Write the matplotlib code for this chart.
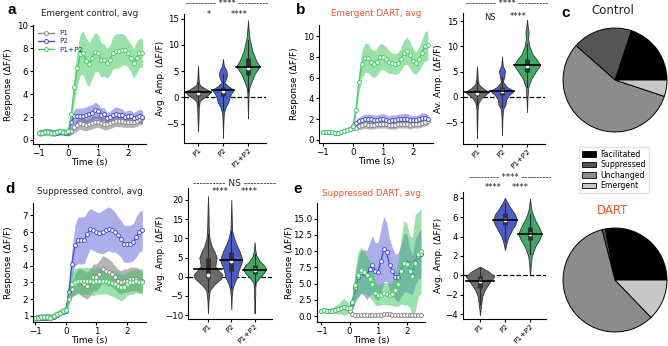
import numpy as np
import matplotlib
matplotlib.use('Agg')
import matplotlib.pyplot as plt
from matplotlib.patches import Patch

W, H = 668, 346
DART_RED = '#f0562a'

# time axis: -1.0 .. 2.5 s in 0.1 s steps
t = np.linspace(-1.0, 2.5, 36)

# ---- panel a: emergent control ----
a_p1 = [0.65, 0.7, 0.7, 0.75, 0.7, 0.65, 0.7, 0.75, 0.7, 0.65, 0.6,
        0.8, 1.1, 1.3, 1.5, 1.4, 1.3, 1.4, 1.5, 1.6, 1.6, 1.5, 1.4, 1.4, 1.5, 1.6, 1.7, 1.7, 1.7, 1.6, 1.6, 1.6, 1.6, 1.7, 1.8, 1.9]
a_p1_sem = [0.25] * 11 + [0.35, 0.45, 0.5, 0.55, 0.55, 0.5, 0.5, 0.55, 0.55, 0.5, 0.5, 0.5, 0.5, 0.5, 0.5, 0.5, 0.55, 0.55, 0.5, 0.5, 0.5, 0.5, 0.5, 0.5, 0.5]
a_p2 = [0.6, 0.65, 0.7, 0.7, 0.65, 0.6, 0.65, 0.7, 0.7, 0.65, 0.7,
        1.6, 2.1, 2.1, 2.1, 2.1, 2.2, 2.3, 2.4, 2.6, 2.5, 2.2, 2.3, 1.9, 2.0, 2.2, 2.3, 2.2, 2.2, 2.0, 2.1, 2.1, 1.9, 2.0, 2.1, 2.0]
a_p2_sem = [0.25] * 11 + [0.4, 0.6, 0.7, 0.7, 0.7, 0.7, 0.7, 0.7, 0.7, 0.65, 0.6, 0.55, 0.5, 0.5, 0.55, 0.6, 0.6, 0.55, 0.5, 0.5, 0.5, 0.5, 0.55, 0.6, 0.6]
a_p3 = [0.6, 0.65, 0.7, 0.7, 0.65, 0.6, 0.7, 0.75, 0.7, 0.7, 0.8,
        2.3, 4.6, 6.3, 7.5, 7.6, 6.9, 6.6, 7.2, 7.7, 7.6, 7.0, 7.0, 6.7, 7.0, 7.6, 7.8, 7.8, 7.9, 7.9, 7.6, 7.2, 6.7, 7.2, 7.6, 7.6]
a_p3_sem = [0.3] * 11 + [0.6, 1.2, 1.6, 1.8, 1.9, 2.0, 1.9, 1.8, 1.7, 1.6, 1.5, 1.4, 1.3, 1.3, 1.4, 1.5, 1.5, 1.4, 1.3, 1.2, 1.2, 1.3, 1.4, 1.3, 1.2]

# ---- panel b: emergent DART ----
b_p1 = [0.8, 0.8, 0.8, 0.75, 0.7, 0.65, 0.75, 0.9, 1.0, 1.1, 1.2,
        1.2, 1.3, 1.4, 1.5, 1.4, 1.4, 1.4, 1.5, 1.5, 1.5, 1.5, 1.4, 1.4, 1.4, 1.5, 1.5, 1.5, 1.5, 1.4, 1.5, 1.5, 1.5, 1.6, 1.7, 1.8]
b_p1_sem = [0.2] * 11 + [0.25, 0.3] + [0.35] * 23
b_p2 = [0.8, 0.8, 0.8, 0.75, 0.7, 0.65, 0.75, 0.9, 1.0, 1.1, 1.3,
        1.6, 1.8, 1.9, 2.0, 2.0, 2.0, 1.9, 1.9, 2.0, 2.0, 1.9, 1.8, 1.9, 1.9, 2.0, 2.0, 2.0, 2.0, 1.9, 1.9, 1.9, 2.0, 2.1, 2.1, 2.0]
b_p2_sem = [0.2] * 11 + [0.3, 0.4, 0.45, 0.5, 0.5, 0.5, 0.5, 0.5, 0.5, 0.55, 0.55, 0.5, 0.5, 0.5, 0.5, 0.5, 0.55, 0.55, 0.5, 0.45, 0.45, 0.45, 0.5, 0.5, 0.45]
b_p3 = [0.8, 0.8, 0.8, 0.75, 0.7, 0.65, 0.75, 0.9, 1.0, 1.1, 1.3,
        2.9, 5.6, 7.3, 7.9, 7.9, 7.5, 7.3, 7.5, 8.0, 8.0, 7.8, 7.5, 7.4, 7.3, 7.4, 7.8, 8.4, 8.6, 8.2, 7.6, 7.4, 7.8, 8.4, 9.0, 9.1]
b_p3_sem = [0.2] * 11 + [0.5, 1.0, 1.3, 1.4, 1.4, 1.3, 1.3, 1.3, 1.3, 1.2, 1.2, 1.1, 1.0, 1.0, 1.0, 1.1, 1.2, 1.3, 1.3, 1.2, 1.1, 1.1, 1.2, 1.4, 1.4]

# ---- panel d: suppressed control ----
d_p1 = [0.9, 0.95, 0.95, 0.95, 1.0, 0.95, 1.0, 1.1, 1.2, 1.3, 1.35,
        2.1, 2.6, 2.9, 3.1, 3.0, 2.9, 2.8, 3.0, 3.3, 3.3, 3.5, 3.8, 3.7, 3.6, 3.5, 3.3, 3.1, 3.0, 3.1, 3.1, 3.2, 3.2, 3.2, 3.1, 3.1]
d_p1_sem = [0.15] * 11 + [0.3, 0.5, 0.6, 0.7] + [0.8] * 10 + [0.75] + [0.7] * 10
d_p2 = [0.85, 0.85, 0.9, 0.9, 0.9, 0.9, 0.95, 1.05, 1.15, 1.25, 1.3,
        2.4, 4.1, 5.2, 5.5, 5.5, 5.5, 5.9, 6.2, 6.1, 6.0, 5.95, 6.0, 6.1, 6.2, 6.1, 6.0, 5.8, 5.6, 5.3, 5.3, 5.3, 5.4, 5.7, 6.0, 6.1]
d_p2_sem = [0.15] * 11 + [0.4, 0.8, 1.2, 1.4, 1.4, 1.4, 1.3, 1.2, 1.2, 1.2, 1.2, 1.3, 1.3, 1.3, 1.3, 1.2, 1.1, 1.1, 1.1, 1.1, 1.1, 1.1, 1.2, 1.2, 1.2]
d_p3 = [0.9, 0.9, 0.95, 0.95, 0.95, 0.9, 1.0, 1.1, 1.2, 1.3, 1.35,
        2.0, 2.9, 3.0, 3.1, 3.1, 3.1, 3.1, 3.1, 3.0, 3.1, 3.1, 3.1, 3.1, 3.0, 2.95, 2.9, 2.8, 2.7, 2.75, 2.9, 3.0, 3.0, 3.1, 3.05, 3.0]
d_p3_sem = [0.2] * 11 + [0.4, 0.7] + [0.8] * 10 + [0.75, 0.75, 0.75, 0.8, 0.8, 0.8, 0.75, 0.7, 0.7, 0.7, 0.7, 0.7, 0.7]

# ---- panel e: suppressed DART ----
e_p1 = [0.8, 0.9, 0.8, 0.8, 0.85, 1.0, 1.1, 1.3, 1.4, 1.3, 0.7,
        0.3, 0.2, 0.15, 0.1, 0.1, 0.1, 0.1, 0.1, 0.1, 0.1, 0.2, 0.3, 0.3, 0.25, 0.2, 0.15, 0.1, 0.1, 0.1, 0.1, 0.1, 0.1, 0.1, 0.1, 0.1]
e_p1_sem = [0.15] * 11 + [0.08] * 25
e_p2 = [0.8, 0.9, 0.8, 0.8, 0.85, 1.0, 1.1, 1.3, 1.4, 1.3, 1.2,
        2.0, 4.3, 6.0, 6.8, 6.7, 6.3, 7.2, 7.9, 7.0, 6.8, 8.5, 10.3, 9.8, 7.8, 7.0, 6.0, 6.0, 6.9, 8.2, 8.2, 7.0, 6.3, 8.3, 9.3, 9.6]
e_p2_sem = [0.3] * 10 + [0.4] + [1.0, 2.0, 3.0, 3.3, 3.5, 3.8, 4.0, 4.5, 4.3, 4.5, 5.0, 5.0, 4.5, 4.0, 3.5, 3.5, 3.8, 4.0, 4.5, 4.5, 3.5, 3.0, 3.5, 3.5, 3.8]
e_p3 = [0.8, 0.9, 0.8, 0.8, 0.85, 1.0, 1.1, 1.3, 1.4, 1.3, 1.2,
        2.2, 4.7, 6.3, 7.1, 6.8, 6.3, 5.7, 4.9, 3.5, 3.2, 3.3, 3.5, 3.4, 3.3, 3.4, 4.0, 5.0, 6.9, 8.2, 8.0, 6.9, 6.2, 8.2, 9.5, 10.0]
e_p3_sem = [0.3, 0.4, 0.4, 0.4, 0.5, 0.6, 0.8, 1.0, 1.3, 1.0, 0.6,
            1.0, 2.5, 3.5, 3.5, 3.3, 3.0, 2.8, 2.5, 1.8, 1.6, 1.6, 1.7, 1.7, 1.6, 1.8, 2.5, 3.5, 5.0, 6.5, 6.3, 5.5, 6.0, 7.5, 6.5, 6.5]

# ---- violins: density profile (level, relative width), box (lo, q1, med, q3, hi), mean ----
cats = ['P1', 'P2', 'P1+P2']

a_v1_lv = [-6.5, -4.0, -2.0, -0.8, -0.2, 0.4, 1.1, 1.6, 2.3, 3.0, 4.0, 6.0]
a_v1_dn = [0.0, 0.04, 0.06, 0.12, 0.35, 0.75, 1.0, 0.6, 0.15, 0.06, 0.04, 0.0]
a_v1_box = [-1.5, 0.3, 0.8, 1.4, 3.0]
a_v2_lv = [-7.7, -5.0, -3.0, -1.8, -1.0, 0.0, 0.7, 1.4, 2.2, 2.9, 3.6, 4.4, 5.2, 6.0, 7.3]
a_v2_dn = [0.0, 0.03, 0.08, 0.25, 0.47, 0.6, 0.75, 1.0, 0.45, 0.12, 0.3, 0.37, 0.3, 0.08, 0.0]
a_v2_box = [-2.5, 0.3, 1.3, 2.0, 4.5]
a_v3_lv = [-4.0, -1.0, 1.0, 1.9, 2.9, 4.5, 5.9, 7.0, 8.9, 10.0, 11.4, 13.0, 14.7]
a_v3_dn = [0.0, 0.03, 0.06, 0.12, 0.28, 0.57, 1.0, 0.7, 0.36, 0.25, 0.12, 0.05, 0.0]
a_v3_box = [1.0, 4.2, 5.6, 7.5, 11.0]
a_means = [1.1, 1.4, 5.7]

b_v1_lv = [-8.2, -5.0, -2.5, -1.2, -0.3, 0.4, 1.0, 1.7, 2.5, 3.5, 4.5, 6.1]
b_v1_dn = [0.0, 0.03, 0.05, 0.12, 0.35, 0.7, 1.0, 0.5, 0.15, 0.06, 0.04, 0.0]
b_v1_box = [-1.5, 0.3, 0.8, 1.4, 3.0]
b_v2_lv = [-7.5, -4.5, -2.5, -1.5, -0.5, 0.4, 1.2, 2.0, 3.0, 4.2, 5.2, 6.2, 8.0]
b_v2_dn = [0.0, 0.03, 0.08, 0.3, 0.35, 0.6, 1.0, 0.4, 0.08, 0.2, 0.25, 0.06, 0.0]
b_v2_box = [-2.0, 0.4, 1.1, 1.9, 4.0]
b_v3_lv = [-3.0, 0.0, 2.0, 3.5, 5.0, 6.3, 7.5, 8.5, 10.0, 11.5, 12.8, 13.8, 15.3]
b_v3_dn = [0.0, 0.04, 0.1, 0.3, 0.65, 1.0, 0.7, 0.4, 0.18, 0.08, 0.12, 0.06, 0.0]
b_v3_box = [2.0, 5.0, 6.1, 7.5, 10.5]
b_means = [0.9, 1.2, 6.3]

d_v1_lv = [-9.5, -6.0, -3.5, -2.0, -0.5, 0.5, 1.8, 2.8, 4.0, 5.0, 6.5, 8.0, 10.0, 13.0, 17.0, 21.0]
d_v1_dn = [0.0, 0.04, 0.12, 0.45, 0.9, 1.0, 0.7, 0.5, 0.55, 0.6, 0.45, 0.25, 0.1, 0.05, 0.03, 0.0]
d_v1_box = [-4.0, -0.3, 0.5, 5.0, 11.0]
d_v2_lv = [-8.5, -5.0, -3.0, -1.5, 0.0, 1.5, 3.0, 4.3, 5.5, 7.0, 8.5, 10.0, 12.0, 15.0, 20.0]
d_v2_dn = [0.0, 0.04, 0.12, 0.3, 0.55, 0.65, 0.85, 1.0, 0.9, 0.7, 0.45, 0.25, 0.08, 0.04, 0.0]
d_v2_box = [-3.0, 1.5, 4.2, 6.5, 12.0]
d_v3_lv = [-9.5, -6.0, -4.5, -3.0, -1.5, -0.3, 1.0, 2.0, 3.0, 4.0, 5.5, 7.0, 9.0]
d_v3_dn = [0.0, 0.03, 0.06, 0.05, 0.1, 0.4, 0.8, 1.0, 0.8, 0.45, 0.15, 0.05, 0.0]
d_v3_box = [-2.5, 0.8, 1.8, 3.0, 6.0]
d_means = [2.0, 4.3, 1.8]

e_v1_lv = [-4.1, -3.4, -2.8, -2.2, -1.6, -1.0, -0.5, -0.1, 0.4, 0.9]
e_v1_dn = [0.0, 0.05, 0.1, 0.15, 0.3, 0.55, 0.8, 1.0, 0.6, 0.0]
e_v1_box = [-3.0, -1.3, -0.6, -0.1, 0.8]
e_v2_lv = [2.6, 3.3, 4.0, 4.7, 5.2, 5.7, 6.3, 6.9, 7.5, 8.0]
e_v2_dn = [0.0, 0.12, 0.3, 0.6, 0.85, 1.0, 0.85, 0.5, 0.2, 0.0]
e_v2_box = [3.5, 5.2, 5.7, 6.4, 7.5]
e_v3_lv = [0.0, 1.0, 2.0, 3.0, 3.7, 4.3, 5.0, 5.8, 6.6, 7.3, 7.9]
e_v3_dn = [0.0, 0.06, 0.15, 0.45, 0.8, 1.0, 0.75, 0.4, 0.15, 0.06, 0.0]
e_v3_box = [2.2, 3.6, 4.3, 5.0, 6.3]
e_means = [-0.6, 5.7, 4.3]

# ---- pies ----
pie_labels = ['Facilitated', 'Suppressed', 'Unchanged', 'Emergent']
ctrl_pct = [19.9, 18.6, 56.4, 5.1]
dart_pct = [28.0, 1.0, 58.2, 12.8]

# ---------------------------------------------------------------------------
plt.rcParams['font.family'] = 'DejaVu Sans'
plt.rcParams['axes.linewidth'] = 0.8
fig = plt.figure(figsize=(W / 100, H / 100), dpi=100)

line_c = {'P1': '#8a8a8a', 'P2': '#4452c6', 'P1+P2': '#46cf66'}
fill_c = {'P1': '#5a5a5a', 'P2': '#4a4ad0', 'P1+P2': '#36c458'}
fill_a = {'P1': 0.45, 'P2': 0.45, 'P1+P2': 0.5}
viol_c = ['#6a6a6a', '#4a5ec4', '#3daa68']
TICK_FS = 6.2
LABEL_FS = 6.5


def px_axes(l, t_, r, b):
    return fig.add_axes([l / W, 1 - b / H, (r - l) / W, (b - t_) / H])


def style(ax):
    for s in ['top', 'right']:
        ax.spines[s].set_visible(False)
    ax.tick_params(labelsize=TICK_FS, length=2.5, width=0.8, pad=1)


def ylabel_at(ax, box, text, x_px):
    l, t_, r, b = box
    ax.set_ylabel(text, fontsize=LABEL_FS)
    ax.yaxis.set_label_coords((x_px - l) / (r - l), 0.5)


def time_panel(box, xlim, ylim, yticks, series, title, tcolor, title_y, legend=False):
    ax = px_axes(*box)
    for name, m, s in series:
        m = np.array(m)
        s = np.array(s)
        ax.fill_between(t, m - s, m + s, color=fill_c[name], alpha=fill_a[name], lw=0)
    for name, m, s in series:
        ax.plot(t, m, color=line_c[name], lw=1, marker='o', ms=2.8, mfc='white',
                mec=line_c[name], mew=0.7, label=name)
    ax.set_xlim(*xlim)
    ax.set_ylim(*ylim)
    ax.set_xticks([-1, 0, 1, 2])
    ax.set_yticks(yticks)
    ax.set_xlabel('Time (s)', fontsize=LABEL_FS, labelpad=0)
    style(ax)
    l, t_, r, b = box
    fig.text((l + r) / 2 / W, 1 - title_y / H, title, color=tcolor, fontsize=6.3,
             ha='center', va='center')
    if legend:
        ax.legend(loc='upper left', fontsize=5.2, frameon=False, handlelength=2.2,
                  borderaxespad=0.3, labelspacing=0.3, labelcolor='#2e3060')
    return ax


def violin_panel(box, p1_px, sp, ylim, yticks, profiles, boxes, means, widths):
    l, t_, r, b = box
    ax = px_axes(*box)
    ax.set_xlim((l - p1_px) / sp, (r - p1_px) / sp)
    ax.set_ylim(*ylim)
    ax.axhline(0, color='k', ls='--', lw=0.9, zorder=1)
    for i, ((lv, dn), bx, mu, hw) in enumerate(zip(profiles, boxes, means, widths)):
        lv = np.array(lv)
        dn = np.array(dn) * hw
        ax.fill_betweenx(lv, i - dn, i + dn, facecolor=viol_c[i], edgecolor='#333333',
                         lw=0.6, zorder=2)
        ax.plot([i, i], [bx[0], bx[4]], color='#2a2a2a', lw=0.8, zorder=3)
        ax.plot([i, i], [bx[1], bx[3]], color='#303030', lw=3.5, solid_capstyle='butt', zorder=3)
        ax.plot(i, bx[2], 'o', color='white', ms=1.8, zorder=4)
        ax.plot([i - hw, i + hw], [mu, mu], color='k', lw=1.2, zorder=5)
    ax.set_xticks(range(3))
    ax.set_xticklabels(cats, rotation=45, ha='right', rotation_mode='anchor')
    ax.set_yticks(yticks)
    style(ax)
    ax.tick_params(axis='x', labelsize=5.4, pad=0.5, length=2)
    return ax


def note(ax, x, y_px, s, size=6):
    ax.annotate(s, xy=(x, 1 - y_px / H), xycoords=('data', 'figure fraction'),
                ha='center', va='center', fontsize=size, color='#222222', annotation_clip=False)


# ---- panel a ----
box = (33, 25, 146, 144)
ax = time_panel(box, (-1.2, 2.62), (-0.35, 10.05), [0, 2, 4, 6, 8, 10],
                [('P1', a_p1, a_p1_sem), ('P2', a_p2, a_p2_sem), ('P1+P2', a_p3, a_p3_sem)],
                'Emergent control, avg', '#222222', 13, legend=True)
ylabel_at(ax, box, 'Response (ΔF/F)', 13)

box = (184, 14, 266, 143)
ax = violin_panel(box, 198, 25, (-8.7, 15.9), [-5, 0, 5, 10, 15],
                  [(a_v1_lv, a_v1_dn), (a_v2_lv, a_v2_dn), (a_v3_lv, a_v3_dn)],
                  [a_v1_box, a_v2_box, a_v3_box], a_means, [0.52, 0.43, 0.47])
ylabel_at(ax, box, 'Avg. Amp. (ΔF/F)', 165)
note(ax, 1.15, 4, '---------- **** ----------')
note(ax, 0.45, 14, '*')
note(ax, 1.65, 14, '****')

# ---- panel b ----
box = (319, 25, 433, 143)
ax = time_panel(box, (-1.13, 2.67), (-0.29, 11.06), [0, 2, 4, 6, 8, 10],
                [('P1', b_p1, b_p1_sem), ('P2', b_p2, b_p2_sem), ('P1+P2', b_p3, b_p3_sem)],
                'Emergent DART, avg', DART_RED, 13)
ylabel_at(ax, box, 'Response (ΔF/F)', 299)

box = (463, 13, 545, 144)
ax = violin_panel(box, 477, 25, (-9.3, 16.6), [-5, 0, 5, 10, 15],
                  [(b_v1_lv, b_v1_dn), (b_v2_lv, b_v2_dn), (b_v3_lv, b_v3_dn)],
                  [b_v1_box, b_v2_box, b_v3_box], b_means, [0.47, 0.47, 0.53])
ylabel_at(ax, box, 'Av. Amp. (ΔF/F)', 443)
note(ax, 1.2, 4, '---------- **** ----------')
note(ax, 0.52, 17, 'NS')
note(ax, 1.65, 17, '****')

# ---- panel d ----
box = (33, 203, 146, 322)
ax = time_panel(box, (-1.07, 2.62), (0.64, 7.73), [1, 2, 3, 4, 5, 6, 7],
                [('P1', d_p1, d_p1_sem), ('P2', d_p2, d_p2_sem), ('P1+P2', d_p3, d_p3_sem)],
                'Suppressed control, avg', '#222222', 192)
ylabel_at(ax, box, 'Response (ΔF/F)', 13)

box = (188, 188, 272, 319)
ax = violin_panel(box, 208, 23.3, (-11.0, 23.1), [-10, -5, 0, 5, 10, 15, 20],
                  [(d_v1_lv, d_v1_dn), (d_v2_lv, d_v2_dn), (d_v3_lv, d_v3_dn)],
                  [d_v1_box, d_v2_box, d_v3_box], d_means, [0.62, 0.47, 0.5])
ylabel_at(ax, box, 'Avg. Amp. (ΔF/F)', 165)
note(ax, 1.15, 183, '---------- NS ----------', 6.5)
note(ax, 0.52, 192, '****')
note(ax, 1.77, 192, '****')

# ---- panel e ----
box = (317, 203, 425, 322)
ax = time_panel(box, (-1.14, 2.64), (-0.92, 17.4), [0, 2.5, 5, 7.5, 10, 12.5, 15],
                [('P1', e_p1, e_p1_sem), ('P2', e_p2, e_p2_sem), ('P1+P2', e_p3, e_p3_sem)],
                'Suppressed DART, avg', DART_RED, 193)
ax.set_yticklabels(['0.0', '2.5', '5.0', '7.5', '10.0', '12.5', '15.0'])
ylabel_at(ax, box, 'Response (ΔF/F)', 294)

box = (463, 192, 546, 319)
ax = violin_panel(box, 480, 25, (-4.5, 8.6), [-4, -2, 0, 2, 4, 6, 8],
                  [(e_v1_lv, e_v1_dn), (e_v2_lv, e_v2_dn), (e_v3_lv, e_v3_dn)],
                  [e_v1_box, e_v2_box, e_v3_box], e_means, [0.57, 0.47, 0.47])
ylabel_at(ax, box, 'Avg. Amp. (ΔF/F)', 443)
note(ax, 1.2, 178, '---------- **** ----------')
note(ax, 0.52, 188, '****')
note(ax, 1.6, 188, '****')

# ---- panel c: pies ----
pie_c = ['#000000', '#555555', '#8c8c8c', '#c8c8c8']
for pct, (cy, title, tc, ty) in [(ctrl_pct, (80, 'Control', '#222222', 10)),
                                 (dart_pct, (280, 'DART', DART_RED, 210))]:
    pax = px_axes(561, cy - 53, 669, cy + 53)
    pax.pie(pct, colors=pie_c, startangle=0, counterclock=True,
            wedgeprops=dict(edgecolor='k', linewidth=0.7))
    pax.set_xlim(-1.02, 1.02)
    pax.set_ylim(-1.02, 1.02)
    pax.set_aspect('equal')
    fig.text(613 / W, 1 - ty / H, title, color=tc, fontsize=8.5, ha='center', va='center')

handles = [Patch(facecolor=c, edgecolor='k', lw=0.6) for c in pie_c]
fig.legend(handles, pie_labels, loc='center', bbox_to_anchor=(614 / W, 1 - 170 / H),
           fontsize=5.6, frameon=True, handlelength=1.8, handleheight=0.7,
           labelspacing=0.2, borderpad=0.4, handletextpad=0.6, fancybox=False,
           edgecolor='#dddddd')

# ---- panel letters ----
for lt, x, y in [('a', 7, 10), ('b', 296, 10), ('c', 561, 13), ('d', 5, 189), ('e', 293, 189)]:
    fig.text(x / W, 1 - y / H, lt, fontsize=11, fontweight='bold', family='Liberation Sans',
             ha='left', va='center')

fig.savefig('out.png', dpi=100)
